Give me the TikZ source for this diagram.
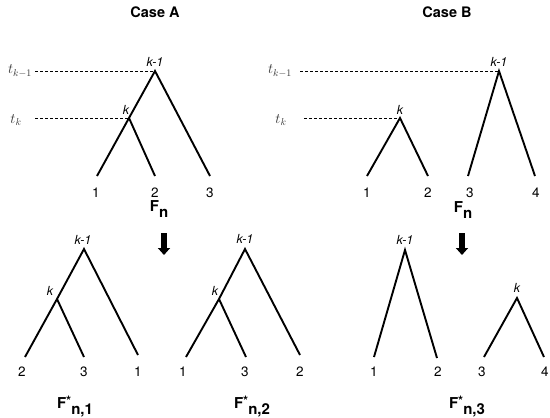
\documentclass[tikz,border=0pt]{standalone}
\usepackage{fontspec}
\setmainfont{TeX Gyre Heros}
\usetikzlibrary{arrows.meta,positioning}

\tikzset{
  branch/.style={line width=1.9pt},
  guide/.style={line width=0.7pt, dash pattern=on 3pt off 2pt},
  tiplab/.style={font=\fontsize{13.5}{13.5}\selectfont, inner sep=0pt},
  splitlab/.style={font=\itshape\fontsize{12.5}{12.5}\selectfont, inner sep=0pt},
  timelab/.style={text=black!80, font=\Large, inner sep=0pt},
  casetitle/.style={font=\bfseries\fontsize{14.5}{15}\selectfont},
  forestlab/.style={font=\bfseries\fontsize{15}{15}\selectfont, inner sep=0pt},
  mapdown/.style={line width=5.5pt, -{Triangle[length=7pt,width=12pt]}}
}

\newcommand{\forestname}[2]{F\raisebox{3pt}{\fontsize{13}{13}\selectfont #1}\raisebox{-6pt}{#2}}

\begin{document}
\begin{tikzpicture}[x=1pt, y=-1pt]
    \useasboundingbox (0,0) rectangle (550,418);

    % Titles
    \node[casetitle] (caseA) at (155,12) {Case A};
    \node[casetitle] (caseB) at (447,12) {Case B};

    % Case A: forest F_n
    \coordinate (rA) at (155,71);
    \coordinate (kA) at (129,118);
    \coordinate (a1) at (97,176);
    \coordinate (a2) at (155,176);
    \coordinate (a3) at (210,176);
    \draw[branch] (a1) -- (kA) -- (rA) -- (a3);
    \draw[branch] (kA) -- (a2);
    \node[splitlab] (rAlab) at (155,62) {k-1};
    \node[splitlab] (kAlab) at (126,110) {k};
    \node[tiplab] (a1lab) at (96,193) {1};
    \node[tiplab] (a2lab) at (155,193) {2};
    \node[tiplab] (a3lab) at (210,193) {3};
    \node[forestlab] (FA) at (159,209) {\forestname{}{n}};

    % Case A: time lines
    \node[timelab] (tA1) at (20,71) {$t_{k-1}$};
    \node[timelab] (tA2) at (16,120) {$t_k$};
    \coordinate (gA1) at (35,71);
    \coordinate (gA2) at (35,118);
    \draw[guide] (gA1) -- (rA);
    \draw[guide] (gA2) -- (kA);

    % Case B: forest F_n
    \coordinate (rB) at (499,71);
    \coordinate (kB) at (400,118);
    \coordinate (b1) at (367,176);
    \coordinate (b2) at (428,176);
    \coordinate (b3) at (468,176);
    \coordinate (b4) at (535,176);
    \draw[branch] (b1) -- (kB) -- (b2);
    \draw[branch] (b3) -- (rB) -- (b4);
    \node[splitlab] (rBlab) at (499,62) {k-1};
    \node[splitlab] (kBlab) at (400,110) {k};
    \node[tiplab] (b1lab) at (367,193) {1};
    \node[tiplab] (b2lab) at (428,193) {2};
    \node[tiplab] (b3lab) at (470,193) {3};
    \node[tiplab] (b4lab) at (536,193) {4};
    \node[forestlab] (FB) at (463,210) {\forestname{}{n}};

    % Case B: time lines
    \node[timelab] (tB1) at (280,71) {$t_{k-1}$};
    \node[timelab] (tB2) at (281,120) {$t_k$};
    \coordinate (gB1) at (300,71);
    \coordinate (gB2) at (304,118);
    \draw[guide] (gB1) -- (rB);
    \draw[guide] (gB2) -- (kB);

    % Arrows
    \coordinate (arA0) at (164,233);
    \coordinate (arA1) at (164,255);
    \coordinate (arB0) at (462,233);
    \coordinate (arB1) at (462,255);
    \draw[mapdown] (arA0) -- (arA1);
    \draw[mapdown] (arB0) -- (arB1);

    % F*_{n,1}
    \coordinate (r1) at (84,249);
    \coordinate (k1) at (57,299);
    \coordinate (c1) at (25,357);
    \coordinate (c2) at (84,357);
    \coordinate (c3) at (138,355);
    \draw[branch] (c1) -- (k1) -- (r1) -- (c3);
    \draw[branch] (k1) -- (c2);
    \node[splitlab] (r1lab) at (83,240) {k-1};
    \node[splitlab] (k1lab) at (50,291) {k};
    \node[tiplab] (c1lab) at (22,372) {2};
    \node[tiplab] (c2lab) at (84,372) {3};
    \node[tiplab] (c3lab) at (138,372) {1};
    \node[forestlab] (F1) at (75,407) {\forestname{*}{n,1}};

    % F*_{n,2}
    \coordinate (r2) at (245,249);
    \coordinate (k2) at (219,299);
    \coordinate (d1) at (186,357);
    \coordinate (d2) at (246,357);
    \coordinate (d3) at (300,355);
    \draw[branch] (d1) -- (k2) -- (r2) -- (d3);
    \draw[branch] (k2) -- (d2);
    \node[splitlab] (r2lab) at (245,239) {k-1};
    \node[splitlab] (k2lab) at (215,291) {k};
    \node[tiplab] (d1lab) at (183,372) {1};
    \node[tiplab] (d2lab) at (245,372) {3};
    \node[tiplab] (d3lab) at (300,372) {2};
    \node[forestlab] (F2) at (252,407) {\forestname{*}{n,2}};

    % F*_{n,3}
    \coordinate (r3) at (405,250);
    \coordinate (k3) at (517,298);
    \coordinate (e1) at (374,357);
    \coordinate (e2) at (437,358);
    \coordinate (e3) at (484,357);
    \coordinate (e4) at (544,357);
    \draw[branch] (e1) -- (r3) -- (e2);
    \draw[branch] (e3) -- (k3) -- (e4);
    \node[splitlab] (r3lab) at (405,240) {k-1};
    \node[splitlab] (k3lab) at (517,288) {k};
    \node[tiplab] (e1lab) at (374,372) {1};
    \node[tiplab] (e2lab) at (438,372) {2};
    \node[tiplab] (e3lab) at (482,372) {3};
    \node[tiplab] (e4lab) at (545,372) {4};
    \node[forestlab] (F3) at (467,407) {\forestname{*}{n,3}};
\end{tikzpicture}
\end{document}
